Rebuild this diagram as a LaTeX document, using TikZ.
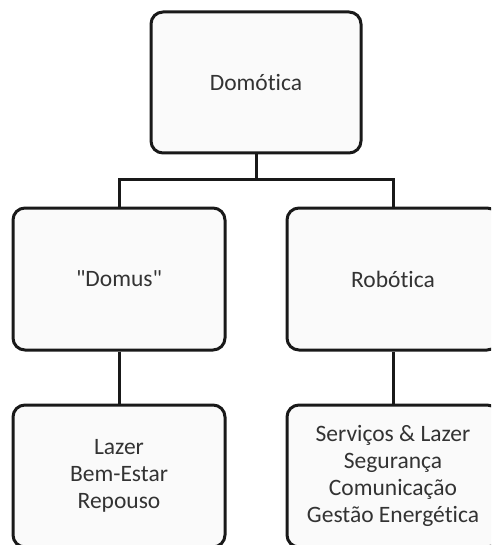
\documentclass[tikz,border=0pt]{standalone}
\usepackage{fontspec}
\setmainfont{Carlito}[Ligatures=NoCommon]
\begin{document}
\begin{tikzpicture}[x=1pt,y=-1pt,
  box/.style={draw=black!90, line width=3pt, rounded corners=12pt, fill=black!2,
    minimum width=212pt, align=center, font=\fontsize{23.5}{27}\selectfont, text=black!80},
  link/.style={draw=black!90, line width=3pt}]
  \useasboundingbox (0,0) rectangle (491,545);
  \clip (0,0) rectangle (491,545);
  \node[box, minimum width=210pt, minimum height=141pt] (dom) at (256,82.5) {Domótica};
  \node[box, minimum height=142pt] (domus) at (119,279) {\textquotedbl Domus\textquotedbl};
  \node[box, minimum height=142pt] (rob) at (393,279) {Robótica};
  \node[box, minimum height=142pt] (lazer) at (119,476) {Lazer\\Bem-Estar\\Repouso};
  \node[box, minimum height=142pt] (serv) at (393,476) {Serviços \& Lazer\\Segurança\\Comunicação\\Gestão Energética};
  \coordinate (bus) at (256,180);
  \draw[link] (dom.south) -- (bus);
  \draw[link] (domus.north) |- (bus) -| (rob.north);
  \draw[link] (domus.south) -- (lazer.north);
  \draw[link] (rob.south) -- (serv.north);
\end{tikzpicture}
\end{document}
